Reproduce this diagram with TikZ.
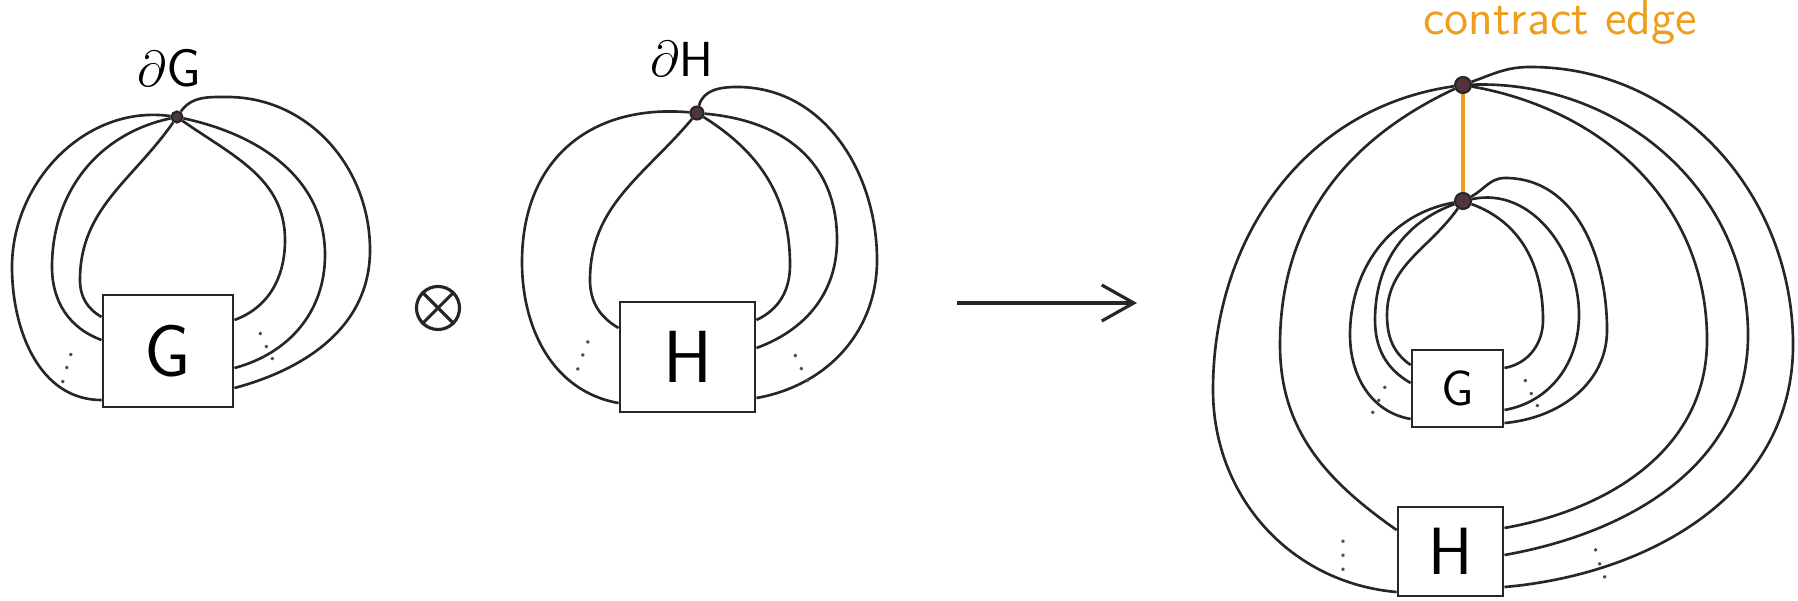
\documentclass[tikz,border=0pt]{standalone}
\usepackage{tikz}
\usetikzlibrary{
    positioning,
    arrows.meta
}
\definecolor{controrange}{RGB}{236,158,28}
\definecolor{vtxfill}{RGB}{82,52,64}

\begin{document}
\begin{tikzpicture}[
        x=0.01cm, y=0.01cm,
        box/.style={draw=black!85, line width=0.8pt, inner sep=0pt, font=\sffamily},
        vtx/.style={circle, draw=black!85, fill=vtxfill, line width=0.6pt, inner sep=0pt},
        strand/.style={draw=black!85, line width=0.75pt},
        bdry/.style={inner sep=0pt, font=\sffamily\fontsize{15}{15}\selectfont},
        dotsn/.style={inner sep=0pt, text=black!70, font=\small}
      ]
      \useasboundingbox (0,0) rectangle (1798,-601);

      % G with its boundary vertex
      \node[box, minimum width=13mm, minimum height=11.2mm, font=\sffamily\fontsize{21}{21}\selectfont] (G) at (168,-351) {G};
      \node[vtx, minimum size=1.1mm] (vg) at (177,-117) {};
      \node[bdry, above=2.3mm of vg, xshift=-0.8mm] (dG) {$\partial$G};

      \draw[strand] (vg) to[out=172,in=90] (12,-267) to[out=-90,in=180] ([yshift=-4.9mm]G.west);
      \draw[strand] (vg) to[out=192,in=90] (52,-267) to[out=-90,in=160] ([yshift=1.1mm]G.west);
      \draw[strand] (vg) to[out=235,in=90] (80,-280) to[out=-90,in=150] ([yshift=3.4mm]G.west);
      \draw[strand] (vg) to[out=-35,in=90] (285,-240) to[out=-90,in=20] ([yshift=3.1mm]G.east);
      \draw[strand] (vg) to[out=-12,in=90] (325,-255) to[out=-90,in=15] ([yshift=-1.7mm]G.east);
      \draw[strand] (vg) to[out=55,in=180] (227,-97) to[out=0,in=90] (370,-250) to[out=-90,in=15] ([yshift=-3.7mm]G.east);

      \node[dotsn, rotate=-15] (gdl) at (70,-358) {$\vdots$};
      \node[dotsn, rotate=25] (gdr) at (262,-337) {$\vdots$};

      \node[circle, draw=black!85, line width=0.9pt, minimum size=4.3mm, inner sep=0pt] (tens) at (438,-308) {};
      \draw[line width=0.9pt, black!85] (tens.45) -- (tens.225) (tens.135) -- (tens.-45);

      % H with its boundary vertex
      \node[box, minimum width=13.5mm, minimum height=11mm, font=\sffamily\fontsize{21}{21}\selectfont] (H) at (687.5,-357) {H};
      \node[vtx, minimum size=1.3mm] (vh) at (697,-113) {};
      \node[bdry, above=2.8mm of vh, xshift=-1.5mm, font=\sffamily\fontsize{14}{14}\selectfont] (dH) {$\partial$H};

      \draw[strand] (vh) to[out=175,in=90,looseness=1.15] (522,-262) to[out=-90,in=170] ([yshift=-4.6mm]H.west);
      \draw[strand] (vh) to[out=230,in=90] (590,-280) to[out=-90,in=150] ([yshift=2.9mm]H.west);
      \draw[strand] (vh) to[out=-32,in=90] (790,-265) to[out=-90,in=25] ([yshift=3.7mm]H.east);
      \draw[strand] (vh) to[out=-5,in=90,looseness=1.1] (837,-240) to[out=-90,in=20] ([yshift=0.9mm]H.east);
      \draw[strand] (vh) to[out=75,in=180] (737,-87) to[out=0,in=90] (877,-260) to[out=-90,in=10] ([yshift=-4.1mm]H.east);

      \node[dotsn, rotate=-20] (hdl) at (587,-346) {$\vdots$};
      \node[dotsn, rotate=25] (hdr) at (797,-359) {$\vdots$};

      \coordinate (arrS) at (957,-303);
      \coordinate (arrE) at (1137,-303);
      \draw[strand, line width=0.9pt, -{Straight Barb[length=3.2mm, width=3.6mm]}] (arrS) -- (arrE);

      % glued result
      \node[box, minimum width=9.1mm, minimum height=7.7mm, font=\sffamily\fontsize{14}{14}\selectfont] (G2) at (1457.5,-388.5) {G};
      \node[box, minimum width=10.5mm, minimum height=8.9mm, font=\sffamily\fontsize{19}{19}\selectfont] (H2) at (1450.5,-551.5) {H};
      \node[vtx, minimum size=1.6mm] (t) at (1463,-85) {};
      \node[vtx, minimum size=1.6mm] (b) at (1463,-201) {};
      \node[inner sep=0pt, anchor=base, text=controrange, font=\sffamily\fontsize{14}{14}\selectfont] (ce) at (1560,-35) {contract edge};

      \draw[strand] (t) to[out=188,in=90] (1213,-390) to[out=-90,in=175] ([yshift=-4.05mm]H2.west);
      \draw[strand] (t) to[out=205,in=90] (1280,-345) to[out=-90,in=145] ([yshift=2.15mm]H2.west);
      \draw[strand] (t) to[out=20,in=180] (1530,-67) to[out=0,in=90] (1793,-345) to[out=-90,in=5] ([yshift=-3.55mm]H2.east);
      \draw[strand] (t) to[out=2,in=90] (1748,-335) to[out=-90,in=10] ([yshift=-0.35mm]H2.east);
      \draw[strand] (t) to[out=-10,in=90] (1707,-340) to[out=-90,in=10] ([yshift=2.35mm]H2.east);

      \draw[strand] (b) to[out=190,in=90] (1350,-335) to[out=-90,in=170] ([yshift=-3.05mm]G2.west);
      \draw[strand] (b) to[out=200,in=90] (1375,-320) to[out=-90,in=150] ([yshift=0.55mm]G2.west);
      \draw[strand] (b) to[out=235,in=90] (1387,-315) to[out=-90,in=145] ([yshift=2.35mm]G2.west);
      \draw[strand] (b) to[out=28,in=180] (1505,-178) to[out=0,in=90] (1607,-330) to[out=-90,in=5] ([yshift=-3.45mm]G2.east);
      \draw[strand] (b) to[out=12,in=90] (1579,-315) to[out=-90,in=10] ([yshift=-2.15mm]G2.east);
      \draw[strand] (b) to[out=-20,in=90] (1543,-320) to[out=-90,in=10] ([yshift=2.05mm]G2.east);

      \draw[controrange, line width=1.1pt] (t) -- (b);

      \node[dotsn, rotate=-25] (g2dl) at (1384,-391) {$\vdots$};
      \node[dotsn, rotate=25] (g2dr) at (1527,-384) {$\vdots$};
      \node[dotsn] (h2dl) at (1343,-545) {$\vdots$};
      \node[dotsn, rotate=20] (h2dr) at (1597,-554) {$\vdots$};
    \end{tikzpicture}
\end{document}
